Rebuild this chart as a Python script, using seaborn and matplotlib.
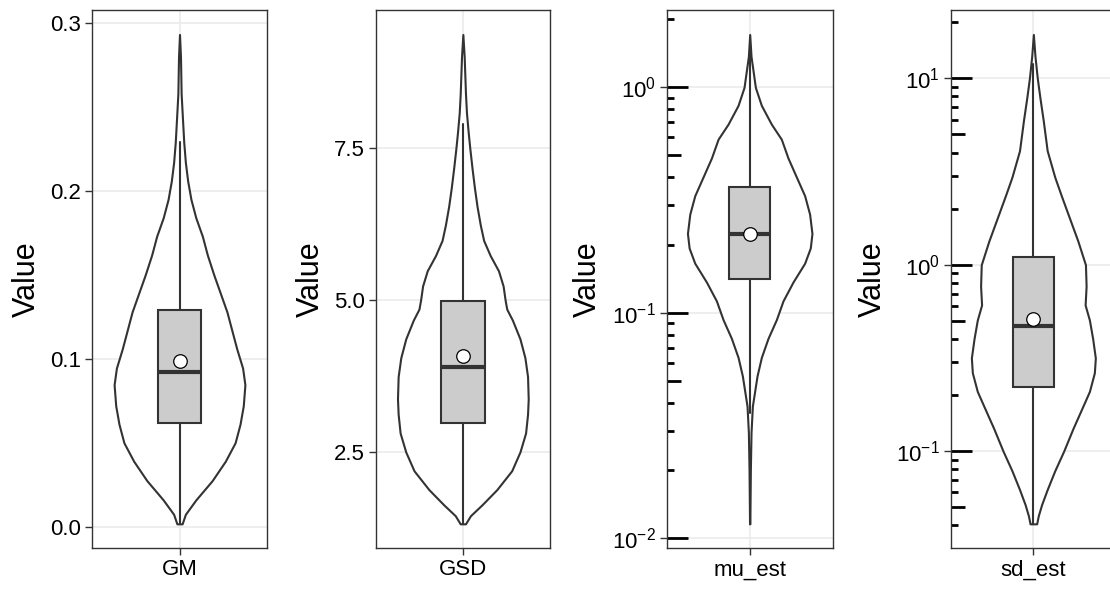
import numpy as np
import matplotlib
matplotlib.use("Agg")
import matplotlib.pyplot as plt
import seaborn as sns
from matplotlib.ticker import FixedLocator, FixedFormatter, NullLocator

sns.set_theme(style="ticks")
plt.rcParams["font.family"] = ["Liberation Sans", "DejaVu Sans"]
plt.rcParams["mathtext.fontset"] = "custom"
plt.rcParams["mathtext.rm"] = "Liberation Sans"
plt.rcParams["mathtext.it"] = "Liberation Sans:italic"
plt.rcParams["mathtext.default"] = "regular"

# ---- data -------------------------------------------------------------
variables = ["GM", "GSD", "mu_est", "sd_est"]
log_scale = [False, False, True, True]

# violin outlines: value levels and relative density at each level
gm_levels = [0.0017, 0.0074, 0.016, 0.0275, 0.039, 0.050, 0.061, 0.072, 0.0846,
             0.0945, 0.106, 0.117, 0.128, 0.139, 0.150, 0.162, 0.173, 0.184,
             0.195, 0.206, 0.217, 0.229, 0.247, 0.258, 0.280, 0.2933]
gm_density = [8, 18, 50, 100, 140, 170, 185, 195, 200, 193, 175, 160, 145, 125,
              105, 85, 70, 50, 35, 25, 18, 13, 8, 5, 3, 0]

gsd_levels = [1.316, 1.45, 1.63, 1.88, 2.19, 2.5, 2.81, 3.12, 3.37, 3.74, 4.05,
              4.36, 4.67, 4.85, 5.0, 5.23, 5.48, 5.73, 5.98, 6.23, 6.54, 6.85,
              7.16, 7.5, 7.77, 8.08, 8.39, 8.70, 9.01, 9.37]
gsd_density = [8, 23, 58, 103, 148, 173, 190, 196, 198, 196, 188, 173, 150, 133,
               128, 122, 108, 83, 63, 53, 43, 35, 28, 21, 16, 11, 8, 6, 4, 0]

mu_levels = [0.0116, 0.0201, 0.0295, 0.0386, 0.045, 0.0525, 0.0635, 0.0771,
             0.0933, 0.113, 0.137, 0.166, 0.194, 0.225, 0.274, 0.331, 0.401,
             0.486, 0.589, 0.687, 0.832, 1.0, 1.13, 1.371, 1.716]
mu_density = [0.5, 2, 4, 8, 15, 22, 35, 55, 80, 100, 130, 165, 182, 187, 180,
              165, 140, 115, 95, 65, 35, 17, 12, 4, 0]

sd_levels = [0.0407, 0.045, 0.0516, 0.0622, 0.0785, 0.1, 0.132, 0.166, 0.209,
             0.263, 0.316, 0.40, 0.505, 0.608, 0.767, 1.0, 1.34, 1.77, 2.34,
             2.95, 4.09, 5.94, 7.85, 10.0, 13.1, 17.2]
sd_density = [10, 15, 25, 42, 65, 92, 120, 145, 170, 185, 188, 180, 170, 157,
              160, 158, 135, 110, 85, 65, 42, 30, 20, 12, 5, 0]

violin_levels = [gm_levels, gsd_levels, mu_levels, sd_levels]
violin_density = [gm_density, gsd_density, mu_density, sd_density]

# box summaries per variable
box_whislo = [0.0017, 1.316, 0.036, 0.0407]
box_q1 = [0.062, 2.97, 0.142, 0.220]
box_median = [0.0924, 3.90, 0.223, 0.469]
box_q3 = [0.1292, 4.99, 0.361, 1.10]
box_whishi = [0.229, 7.90, 1.42, 12.0]
box_mean = [0.0988, 4.08, 0.224, 0.512]

# tick positions / labels
ytick_values = [[0.0, 0.1, 0.2, 0.3], [2.5, 5.0, 7.5],
                [0.01, 0.1, 1.0], [0.1, 1.0, 10.0]]
ytick_labels = [["0.0", "0.1", "0.2", "0.3"], ["2.5", "5.0", "7.5"],
                ["$10^{-2}$", "$10^{-1}$", "$10^{0}$"],
                ["$10^{-1}$", "$10^{0}$", "$10^{1}$"]]

# ---- layout -----------------------------------------------------------
W, H = 1110, 589
fig = plt.figure(figsize=(W / 100, H / 100), dpi=100)
panel_px = [(92.3, 266.7), (375.7, 550.0), (666.7, 832.7), (950.7, 1116.0)]
top_px, bottom_px = 10.0, 548.3

dark = "#333333"
grid_col = "#EBEBEB"
line_w = 1.5

for i, name in enumerate(variables):
    l, r = panel_px[i]
    ax = fig.add_axes([l / W, 1 - bottom_px / H, (r - l) / W, (bottom_px - top_px) / H])
    ax.set_axisbelow(True)

    levels = np.array(violin_levels[i], dtype=float)
    dens = np.array(violin_density[i], dtype=float)
    half = 0.45 * dens / dens.max()

    if log_scale[i]:
        ax.set_yscale("log")

    # violin body
    ax.fill_betweenx(levels, 1 - half, 1 + half, facecolor="white",
                     edgecolor=dark, linewidth=line_w, joinstyle="round", zorder=2)

    # box and whiskers
    stats = [dict(med=box_median[i], q1=box_q1[i], q3=box_q3[i],
                  whislo=box_whislo[i], whishi=box_whishi[i], fliers=[])]
    ax.bxp(stats, positions=[1], widths=0.3, showcaps=False, showfliers=False,
           patch_artist=True, manage_ticks=False,
           boxprops=dict(facecolor="#CCCCCC", edgecolor=dark, linewidth=line_w),
           medianprops=dict(color=dark, linewidth=3.0, solid_capstyle="butt"),
           whiskerprops=dict(color=dark, linewidth=line_w), zorder=3)

    # mean marker
    sns.scatterplot(x=[1.0], y=[box_mean[i]], ax=ax, s=95, color="white",
                    edgecolor="black", linewidth=0.9, zorder=5, legend=False)

    # axis limits with 5% expansion around the violin range
    if log_scale[i]:
        lo, hi = np.log10(levels.min()), np.log10(levels.max())
        pad = 0.05 * (hi - lo)
        ax.set_ylim(10 ** (lo - pad), 10 ** (hi + pad))
    else:
        lo, hi = levels.min(), levels.max()
        pad = 0.05 * (hi - lo)
        ax.set_ylim(lo - pad, hi + pad)
    ax.set_xlim(0.4, 1.6)

    ax.yaxis.set_major_locator(FixedLocator(ytick_values[i]))
    ax.yaxis.set_major_formatter(FixedFormatter(ytick_labels[i]))
    ax.yaxis.set_minor_locator(NullLocator())
    ax.xaxis.set_major_locator(FixedLocator([1.0]))
    ax.xaxis.set_major_formatter(FixedFormatter([name]))
    ax.xaxis.set_minor_locator(NullLocator())

    ax.grid(True, which="major", color=grid_col, linewidth=1.2)
    for sp in ax.spines.values():
        sp.set_visible(True)
        sp.set_color(dark)
        sp.set_linewidth(1.0)

    ax.tick_params(axis="both", which="major", direction="out", length=5,
                   width=1.0, color=dark, labelsize=16, labelcolor="black",
                   left=True, bottom=True, pad=3)

    ax.set_xlabel("")
    ax.set_ylabel("Value", fontsize=22, color="black", labelpad=6)

    # log ticks along the left edge of log panels
    if log_scale[i]:
        ymin, ymax = ax.get_ylim()
        width_px = r - l
        vals, lens = [], []
        for k in range(-4, 4):
            for m in range(1, 10):
                v = m * 10.0 ** k
                if ymin <= v <= ymax:
                    vals.append(v)
                    lens.append(21 if m == 1 else (14 if m == 5 else 7))
        ax.hlines(vals, 0, np.array(lens) / width_px, transform=ax.get_yaxis_transform(),
                  colors="black", linewidth=2.0, zorder=2.5, clip_on=False)

fig.savefig("out.png", dpi=100)
